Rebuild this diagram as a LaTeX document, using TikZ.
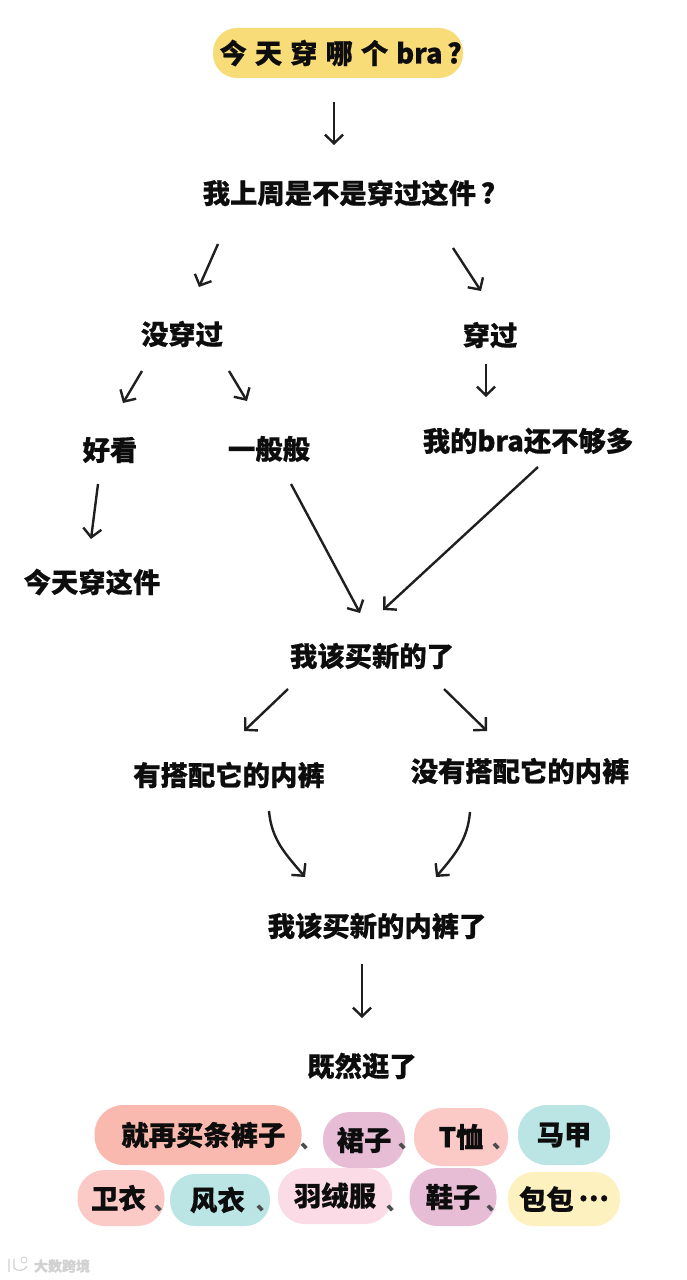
\documentclass[tikz,border=0pt]{standalone}
\usepackage{fontspec}
\setmainfont{Noto Sans CJK SC}[BoldFont={* Black},BoldFeatures={FakeBold=0.6}]
\usetikzlibrary{arrows.meta,calc}

\begin{document}
\begin{tikzpicture}[
    x=0.75pt, y=-0.75pt,
    font=\fontsize{20.5pt}{22pt}\bfseries,
    txt/.style={inner sep=0pt, text=black!95},
    arr/.style={-{Straight Barb[length=2.3mm,width=4.8mm]}, line width=1.8pt, black!88},
    blob/.style={inner sep=0pt, text=black!95},
    dun/.style={inner sep=0pt, text=black!70, font=\fontsize{15pt}{18pt}\bfseries},
  ]
  \useasboundingbox (0,0) rectangle (686,1280);
  \definecolor{byellow}{HTML}{F8DC78}

  % ============================== Question chain ==========================
  \node[blob, fill=byellow, minimum width=187.5pt, minimum height=37.5pt,
        rounded corners=18pt] (top) at (338,53)
    {\hspace{4pt}今\hspace{6pt}天\hspace{6pt}穿\hspace{6pt}哪\hspace{6pt}个\hspace{6pt}bra\,?};
  \node[txt] (q) at (349,193) {我上周是不是穿过这件\,?};
  \node[txt] (nw) at (182,334) {没穿过};
  \node[txt] (worn) at (490,335) {穿过};
  \node[txt] (hao) at (110,450) {好看};
  \node[txt] (yb) at (269,449) {一般般};
  \node[txt] (few) at (528,441) {我的bra还不够多};
  \node[txt] (today) at (92,582) {今天穿这件};
  \node[txt] (buy) at (372,656) {我该买新的了};
  \node[txt] (pa) at (229,775) {有搭配它的内裤};
  \node[txt] (pb) at (520,771) {没有搭配它的内裤};
  \node[txt] (pk) at (377,926) {我该买新的内裤了};
  \node[txt] (gu) at (362,1066) {既然逛了};

  \draw[arr] ($(top)+(-4,49)$) -- ($(q)+(-15,-48)$);
  \draw[arr] ($(q)+(-131,51)$) -- ($(nw)+(17,-47)$);
  \draw[arr] ($(q)+(104,55)$) -- ($(worn)+(-9,-44)$);
  \draw[arr] ($(nw)+(-40,37)$) -- ($(hao)+(13,-47)$);
  \draw[arr] ($(nw)+(47,37)$) -- ($(yb)+(-22,-48)$);
  \draw[arr] ($(worn)+(-4,29)$) -- ($(few)+(-42,-44)$);
  \draw[arr] ($(hao)+(-12,34)$) -- ($(today)+(-1,-43)$);
  \draw[arr] ($(yb)+(22,35)$) -- ($(buy)+(-12,-43)$);
  \draw[arr] ($(few)+(10,26)$) -- ($(buy)+(11,-46)$);
  \draw[arr] ($(buy)+(-84,33)$) -- ($(pa)+(15,-44)$);
  \draw[arr] ($(buy)+(72,33)$) -- ($(pb)+(-33,-40)$);
  \draw[arr] ($(pa)+(40,36)$) to[out=-85, in=130] ($(pk)+(-72,-49)$);
  \draw[arr] ($(pb)+(-50,41)$) to[out=-95, in=50] ($(pk)+(59,-49)$);
  \draw[arr] ($(pk)+(-15,38)$) -- ($(gu)+(0,-48)$);

  % ============================== Blobs ===================================
  \definecolor{bsalmon}{HTML}{F9B9AE}
  \definecolor{bmauve}{HTML}{E6BDD5}
  \definecolor{brose}{HTML}{FBC9C6}
  \definecolor{bteal}{HTML}{BBE4E4}
  \definecolor{bpink}{HTML}{FBDCE6}
  \definecolor{bcream}{HTML}{FDF1C0}

  \foreach \n/\xc/\yc/\w/\h/\c/\t in {
      b1/198/1135/207/60/bsalmon/\hspace{8pt}就再买条裤子,
      b2/364/1140/82/56/bmauve/裙子,
      b3/461/1137/94/58/brose/T恤,
      b4/564/1135/92/60/bteal/马甲,
      b5/121/1198/87/56/brose/\hspace{-4pt}卫衣,
      b6/220/1200/100/52/bteal/\hspace{-4pt}风衣,
      b7/335/1196/114/56/bpink/羽绒服,
      b8/453/1197/87/58/bmauve/鞋子,
      b9/564/1199/112/54/bcream/包包\,\raisebox{0.32em}{…}} {
    \node[blob, fill=\c, rounded corners=\h*0.36pt, minimum width=\w*0.75pt, minimum height=\h*0.75pt] (\n) at (\xc,\yc) {\t};
  }

  \node[dun] (d1) at (310,1146) {、};
  \node[dun] (d2) at (408,1146) {、};
  \node[dun] (d3) at (502,1146) {、};
  \node[dun] (d5) at (164,1208) {、};
  \node[dun] (d6) at (266,1208) {、};
  \node[dun] (d7) at (396,1208) {、};
  \node[dun] (d8) at (496,1208) {、};

  % faint stamp bottom left
  \node[inner sep=0pt, text=black!18, font=\fontsize{10.5pt}{12pt}\bfseries] (mark) at (62,1266) {大数跨境};
  \draw[black!18, line width=0.9pt] (9,1259) -- (9,1272) (14,1259) -- (14,1268) to[bend right=60] (27,1266);
  \draw[black!18, line width=0.6pt] (24,1260) circle[radius=3];
\end{tikzpicture}
\end{document}
